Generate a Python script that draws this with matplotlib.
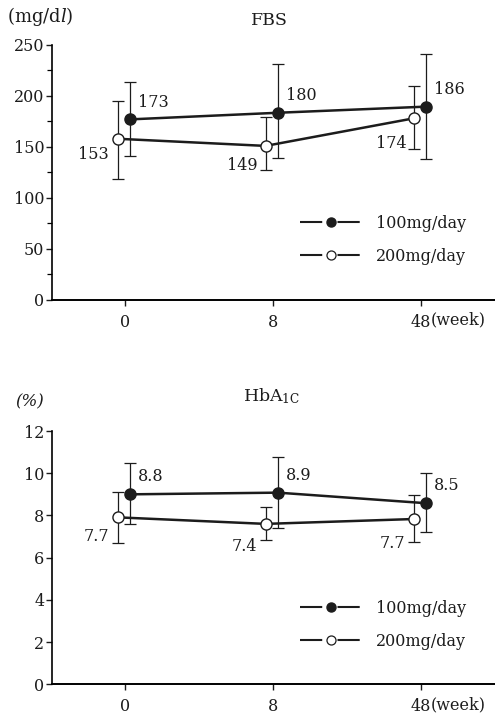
"""
FBS and HbA1c over 48 weeks, two dose groups (mean with error bars)
"""
import matplotlib.pyplot as plt
from matplotlib.lines import Line2D
from matplotlib.ticker import MultipleLocator

plt.rcParams['font.family'] = ['DejaVu Serif']
plt.rcParams['mathtext.fontset'] = 'dejavuserif'
plt.rcParams['lines.scale_dashes'] = False

INK = '#1c1c1c'

weeks = ['0', '8', '48']
series_names = ['100mg/day', '200mg/day']

# FBS (mg/dl): plotted means, labelled values, error bar ends
fbs_100 = [177, 183.5, 189.5]
fbs_100_lo = [141, 139, 138]
fbs_100_hi = [214, 231, 241]
fbs_100_text = ['173', '180', '186']
fbs_200 = [158, 151, 178]
fbs_200_lo = [119, 127, 148]
fbs_200_hi = [195, 179, 210]
fbs_200_text = ['153', '149', '174']

# HbA1c (%)
hba_100 = [9.0, 9.08, 8.58]
hba_100_lo = [7.58, 7.42, 7.23]
hba_100_hi = [10.47, 10.76, 10.0]
hba_100_text = ['8.8', '8.9', '8.5']
hba_200 = [7.91, 7.6, 7.83]
hba_200_lo = [6.71, 6.84, 6.76]
hba_200_hi = [9.1, 8.42, 8.97]
hba_200_text = ['7.7', '7.4', '7.7']

fig = plt.figure(figsize=(4.95, 7.21), dpi=100, facecolor='white')

X_SHIFT = {'filled': 0.034, 'open': -0.05}


def draw_panel(ax, ymax, ystep, yminor, y100, lo100, hi100, t100,
               y200, lo200, hi200, t200, off200):
    x = list(range(len(weeks)))
    xf = [v + X_SHIFT['filled'] for v in x]
    xo = [v + X_SHIFT['open'] for v in x]

    # error bars
    err_kw = dict(fmt='none', ecolor=INK, elinewidth=0.9, capsize=4.5, capthick=0.9, zorder=2)
    ax.errorbar(xf, y100, yerr=[[a - b for a, b in zip(y100, lo100)],
                                [b - a for a, b in zip(y100, hi100)]], **err_kw)
    ax.errorbar(xo, y200, yerr=[[a - b for a, b in zip(y200, lo200)],
                                [b - a for a, b in zip(y200, hi200)]], **err_kw)

    ax.plot(xf, y100, '-', color=INK, lw=1.8, marker='o', ms=8,
            mfc=INK, mec=INK, zorder=3)
    ax.plot(xo, y200, '-', color=INK, lw=1.8, marker='o', ms=8,
            mfc='white', mec=INK, mew=1.0, zorder=3)

    for xi, yi, s in zip(xf, y100, t100):
        ax.annotate(s, (xi, yi), xytext=(5.5, 12.5), textcoords='offset points',
                    ha='left', va='center', fontsize=11.5, color=INK)
    for xi, yi, s, (dx, dy) in zip(xo, y200, t200, off200):
        ax.annotate(s, (xi, yi), xytext=(dx, dy), textcoords='offset points',
                    ha='right', va='center', fontsize=11.5, color=INK)

    ax.set_xlim(-0.493, 2.5)
    ax.set_ylim(0, ymax)
    ax.set_xticks(x)
    ax.set_xticklabels(weeks)
    ax.yaxis.set_major_locator(MultipleLocator(ystep))
    if yminor:
        ax.yaxis.set_minor_locator(MultipleLocator(yminor))
    ax.spines['top'].set_visible(False)
    ax.spines['right'].set_visible(False)
    ax.spines['left'].set_linewidth(1.2)
    ax.spines['bottom'].set_linewidth(1.4)
    ax.tick_params(axis='both', which='major', direction='out', length=4,
                   width=1.0, labelsize=11.5, colors=INK, pad=1.5)
    ax.tick_params(axis='x', pad=6)
    ax.tick_params(axis='y', which='minor', direction='out', length=3.5, width=0.9)
    ax.set_facecolor('none')
    # "(week)" beside the last tick label
    ax.annotate('(week)', (x[-1], 0), xycoords=('data', 'axes fraction'),
                xytext=(6.8, -14.5), textcoords='offset points', ha='left', va='center',
                fontsize=11.5, color=INK, annotation_clip=False)

    dash = (0, (16, 11))
    handles = [
        (Line2D([], [], color=INK, lw=1.5, ls=dash),
         Line2D([], [], ls='none', marker='o', ms=6.5, mfc=INK, mec=INK)),
        (Line2D([], [], color=INK, lw=1.5, ls=dash),
         Line2D([], [], ls='none', marker='o', ms=6.5, mfc='white', mec=INK, mew=0.9)),
    ]
    ax.legend(handles, series_names, loc='center left', bbox_to_anchor=(0.56, 0.235),
              frameon=False, fontsize=11.5, handlelength=3.9, handletextpad=0.85,
              labelspacing=1.0, borderpad=0, borderaxespad=0, labelcolor=INK)


ax1 = fig.add_axes([0.105, 0.584, 0.895, 0.3537])
draw_panel(ax1, 250, 50, 25, fbs_100, fbs_100_lo, fbs_100_hi, fbs_100_text,
           fbs_200, fbs_200_lo, fbs_200_hi, fbs_200_text,
           [(-6, -11), (-6, -14), (-5, -18)])
fig.text(0.014, 0.977, r'(mg/d$\mathit{l}$)', fontsize=13, color=INK, ha='left', va='center')
fig.text(0.545, 0.971, 'FBS', fontsize=12.5, color=INK, ha='center', va='center')

ax2 = fig.add_axes([0.105, 0.0509, 0.895, 0.3513])
draw_panel(ax2, 12, 2, None, hba_100, hba_100_lo, hba_100_hi, hba_100_text,
           hba_200, hba_200_lo, hba_200_hi, hba_200_text,
           [(-6, -13.5), (-6, -16.5), (-6, -17.5)])
fig.text(0.03, 0.442, '(%)', fontsize=12, color=INK, ha='left', va='center', style='italic')
fig.text(0.548, 0.451, r'HbA$_{\mathrm{1C}}$', fontsize=12.5, color=INK, ha='center', va='center')

fig.savefig('out.png', dpi=100, facecolor='white')
